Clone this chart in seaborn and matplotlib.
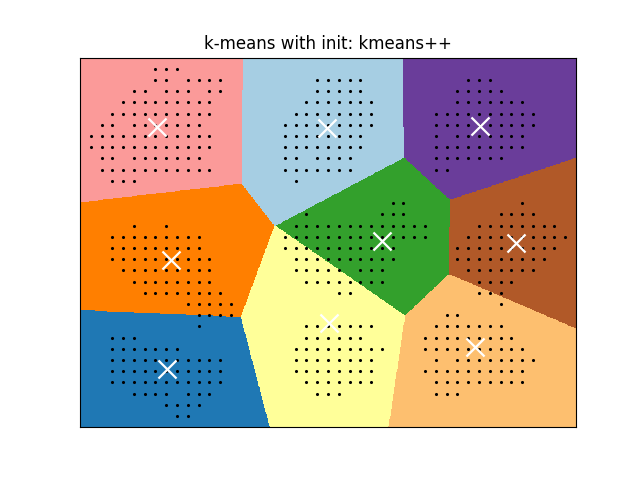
import numpy as np
import matplotlib
matplotlib.use("Agg")
import matplotlib.pyplot as plt
from matplotlib.colors import ListedColormap
import seaborn as sns

# ---- data: grid points, listed as column indices per row (row 0 = top) ----
rows_top = [
    [6, 7, 8],
    [6, 7, 9, 10, 11, 12, 21, 22, 23, 24, 25, 35, 36, 37],
    [4, 5, 7, 8, 9, 11, 12, 21, 22, 23, 24, 25, 34, 35, 36, 37, 38],
    [3, 4, 5, 6, 7, 8, 9, 10, 11, 20, 21, 22, 23, 24, 25, 26, 34, 35, 36, 37, 38, 39, 40],
    [2, 3, 4, 5, 6, 7, 8, 9, 10, 11, 19, 20, 21, 22, 23, 24, 25, 26, 32, 33, 34, 35, 36, 37, 38, 39, 40, 41],
    [1, 2, 4, 5, 6, 7, 8, 9, 10, 18, 19, 20, 21, 22, 23, 24, 25, 26, 32, 33, 34, 35, 36, 37, 38, 39, 40, 41],
    [0, 1, 2, 3, 4, 5, 6, 7, 8, 9, 10, 11, 18, 19, 20, 21, 22, 23, 24, 25, 32, 34, 35, 36, 37, 38, 39, 40],
    [0, 1, 2, 3, 4, 5, 6, 7, 8, 9, 10, 11, 18, 19, 20, 21, 22, 23, 24, 25, 32, 33, 34, 35, 36, 37, 38, 39, 40],
    [1, 2, 4, 5, 6, 7, 8, 9, 10, 18, 19, 21, 22, 23, 24, 32, 33, 34, 35, 36, 37, 38],
    [1, 2, 3, 4, 5, 6, 7, 8, 9, 10, 11, 18, 19, 20, 21, 22, 23, 24, 32, 33],
    [2, 3, 4, 19],
]
rows_mid = [
    [],
    [28, 29, 40],
    [20, 27, 28, 29, 38, 39, 40, 41],
    [4, 7, 19, 20, 21, 22, 23, 24, 25, 26, 27, 28, 29, 30, 31, 36, 37, 38, 39, 40, 41, 42, 43],
    [2, 3, 4, 5, 6, 7, 8, 9, 10, 18, 19, 20, 21, 22, 23, 24, 25, 26, 27, 28, 29, 30, 31, 35, 36, 37, 38, 39, 40, 41, 42, 43, 44],
    [2, 3, 4, 5, 6, 7, 8, 9, 10, 18, 19, 20, 21, 22, 23, 24, 25, 26, 27, 28, 34, 35, 36, 37, 38, 39, 40, 41, 42, 43],
    [2, 3, 4, 5, 6, 7, 8, 9, 10, 11, 19, 20, 21, 22, 23, 24, 25, 26, 27, 28, 34, 35, 36, 37, 38, 39, 40, 41, 42],
    [3, 4, 5, 6, 7, 8, 9, 10, 11, 19, 20, 21, 22, 23, 25, 26, 27, 35, 36, 37, 38, 39, 40, 41],
    [4, 5, 6, 7, 8, 9, 10, 11, 20, 21, 22, 23, 24, 25, 26, 27, 36, 37, 38, 39],
    [5, 6, 7, 8, 9, 10, 11, 12, 23, 24, 36, 37, 38],
    [9, 10, 11, 12, 13, 38],
    [10, 11, 12, 13, 33, 34],
    [10, 20, 21, 22, 23, 24, 25, 26, 32, 33, 34, 35, 36, 37, 38],
]
rows_bottom = [
    [2, 3, 4, 20, 21, 22, 23, 24, 25, 31, 32, 33, 34, 35, 36, 37, 38, 39],
    [2, 3, 4, 5, 6, 7, 8, 19, 20, 21, 22, 23, 24, 25, 26, 27, 31, 32, 33, 34, 35, 36, 37, 38, 39, 40],
    [2, 3, 4, 5, 6, 7, 8, 9, 10, 11, 12, 19, 20, 21, 22, 23, 24, 25, 26, 32, 34, 35, 36, 37, 38, 39, 40, 41],
    [2, 3, 4, 5, 6, 7, 8, 9, 10, 11, 12, 19, 20, 21, 22, 23, 24, 25, 26, 31, 32, 33, 34, 35, 36, 37, 38, 39, 40],
    [2, 3, 4, 5, 6, 7, 8, 9, 10, 11, 12, 20, 21, 22, 23, 24, 25, 26, 32, 33, 34, 35, 36, 37, 38, 39, 40],
    [4, 5, 6, 7, 9, 10, 11, 21, 22, 23, 32, 33, 34],
    [7, 8, 9, 10],
    [8, 9],
]

# ---- centroids (column, row from top) and their region colours (Paired) ----
centroid_col = [6.13, 21.9, 36.1, 7.46, 27.0, 39.46, 7.06, 22.1, 35.65]
centroid_row = [5.16, 5.33, 5.10, 17.07, 15.35, 15.55, 26.8, 22.7, 24.8]
region_colors = ["#fb9a99", "#a6cee3", "#6a3d9a", "#ff7f00", "#33a02c",
                 "#b15928", "#1f78b4", "#ffff99", "#fdbf6f"]

title = "k-means with init: kmeans++"

# ---- build arrays ----
all_rows = rows_top + rows_mid + rows_bottom
n_rows = len(all_rows)
px, py = [], []
for r, cols in enumerate(all_rows):
    for c in cols:
        px.append(c)
        py.append(n_rows - 1 - r)
px = np.array(px, dtype=float)
py = np.array(py, dtype=float)
cx = np.array(centroid_col)
cy = (n_rows - 1) - np.array(centroid_row)

x_min, x_max = px.min() - 1, px.max() + 1
y_min, y_max = py.min() - 1, py.max() + 1

h = 0.05
xx, yy = np.meshgrid(np.arange(x_min, x_max, h), np.arange(y_min, y_max, h))
d = (xx[..., None] - cx) ** 2 + (yy[..., None] - cy) ** 2
Z = d.argmin(axis=-1)

fig, ax = plt.subplots(figsize=(6.4, 4.8), dpi=100)
ax.imshow(Z, interpolation="nearest",
          extent=(xx.min(), xx.max(), yy.min(), yy.max()),
          cmap=ListedColormap(region_colors), vmin=-0.5, vmax=len(region_colors) - 0.5,
          aspect="auto", origin="lower")
sns.scatterplot(x=px, y=py, ax=ax, color="k", s=5, marker="o", linewidth=0)
sns.scatterplot(x=cx, y=cy, ax=ax, color="w", s=169, marker="x", linewidth=1.6, zorder=10)
ax.set_title(title)
ax.set_xlim(x_min, x_max)
ax.set_ylim(y_min, y_max)
ax.set_xticks([])
ax.set_yticks([])
ax.set_xlabel("")
ax.set_ylabel("")
fig.savefig("out.png", dpi=100)
